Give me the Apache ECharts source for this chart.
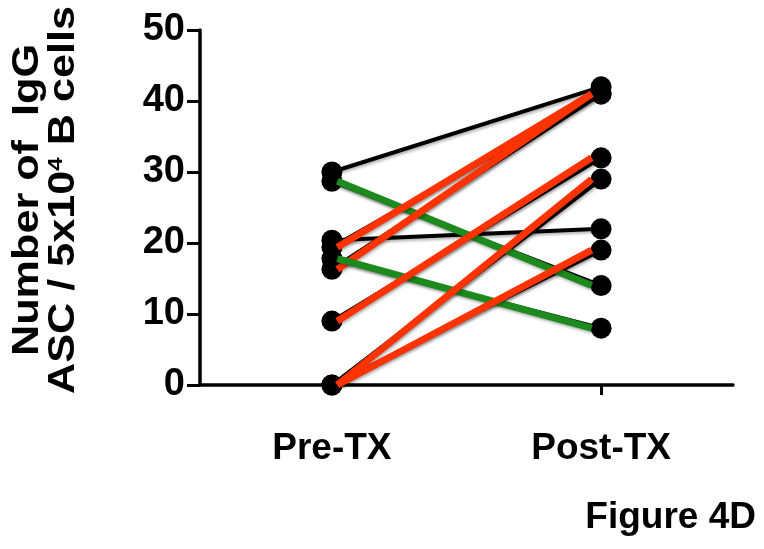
<!DOCTYPE html>
<html>
<head>
<meta charset="utf-8">
<style>
  html, body { margin: 0; padding: 0; background: #fff; }
  #main { width: 764px; height: 549px; }
</style>
<script src="https://cdn.jsdelivr.net/npm/echarts@6/dist/echarts.min.js"></script>
</head>
<body>
<div id="main"></div>
<script>
// categories and paired values (one entry per subject)
const groups = ["Pre-TX", "Post-TX"];
const preValues = [30, 28.7, 19.4, 20.4, 16.3, 17.8, 9, 0, 0];
const postValues = [42, 14, 41, 22, 41, 8, 32, 29, 19];
const lineColors = ["black", "green", "red", "black", "red", "green", "red", "red", "red"];
const yTicks = [0, 10, 20, 30, 40, 50];

const colorMap = { black: "#000000", red: "#ff3300", green: "#1c8a1c" };
const font = "Liberation Sans";

let chart = echarts.init(document.getElementById("main"));

// black lines with dots for every subject
let series = preValues.map((pre, i) => {
  return {
    type: "line",
    data: [[0, pre], [1, postValues[i]]],
    symbol: "circle",
    symbolSize: 21,
    itemStyle: { color: "#000" },
    lineStyle: {
      color: "#000",
      width: 4,
      shadowColor: "rgba(0,0,0,0.3)",
      shadowBlur: 3,
      shadowOffsetX: 1,
      shadowOffsetY: 2,
    },
    z: 2,
    silent: true,
  };
});

// coloured overlays on top of dots
preValues.forEach((pre, i) => {
  if (lineColors[i] === "black") return;
  series.push({
    type: "line",
    data: [[0.02, pre], [0.965, postValues[i]]],
    symbol: "none",
    lineStyle: {
      color: colorMap[lineColors[i]],
      width: 7,
      cap: "butt",
      shadowColor: "rgba(0,0,0,0.3)",
      shadowBlur: 3,
      shadowOffsetX: 1,
      shadowOffsetY: 2,
    },
    z: 3,
    silent: true,
  });
});

chart.setOption({
  animation: false,
  title: {
    text: "Figure 4D",
    right: 8,
    top: 499,
    padding: 0,
    textStyle: { fontFamily: font, fontSize: 37, fontWeight: "bold", color: "#000" },
  },
  grid: { left: 200, right: 31, top: 30, bottom: 164 },
  xAxis: {
    type: "value",
    min: -0.49,
    max: 1.49,
    splitLine: { show: false },
    axisLine: { onZero: false, lineStyle: { color: "#000", width: 3.5 } },
    axisTick: { customValues: [0, 1], length: 10, lineStyle: { color: "#000", width: 3 } },
    axisLabel: {
      customValues: [0, 1],
      formatter: (v) => groups[v],
      margin: 45,
      fontFamily: font,
      fontSize: 37,
      fontWeight: "bold",
      color: "#000",
    },
  },
  yAxis: {
    type: "value",
    min: 0,
    max: 50,
    interval: 10,
    splitLine: { show: false },
    axisLine: { show: true, onZero: false, lineStyle: { color: "#000", width: 3.5 } },
    axisTick: { show: true, length: 13, lineStyle: { color: "#000", width: 3 } },
    axisLabel: {
      customValues: yTicks,
      margin: 15,
      fontFamily: font,
      fontSize: 38,
      fontWeight: "bold",
      color: "#000",
    },
  },
  graphic: [
    {
      type: "text",
      x: 46,
      y: 200,
      rotation: Math.PI / 2,
      scaleX: 1.2,
      style: {
        text: "Number of  IgG\nASC / 5x10{sup|4} B cells",
        fontFamily: font,
        fontSize: 36,
        fontWeight: "bold",
        lineHeight: 36,
        fill: "#000",
        align: "center",
        verticalAlign: "middle",
        rich: {
          sup: { fontSize: 20, fontWeight: "bold", fontFamily: font, verticalAlign: "top", lineHeight: 36 },
        },
      },
    },
  ],
  series: series,
});
</script>
</body>
</html>
